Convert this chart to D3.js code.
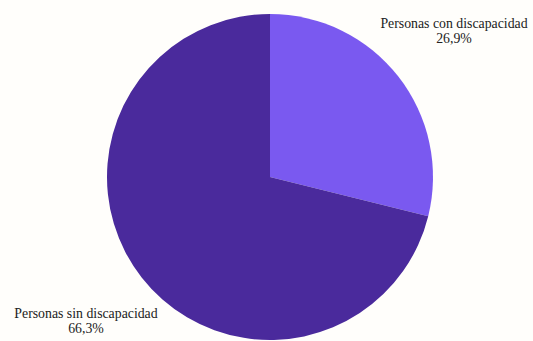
<!DOCTYPE html>
<html>
<head>
<meta charset="utf-8">
<script src="https://cdn.jsdelivr.net/npm/d3@7"></script>
<style>
  html, body { margin: 0; padding: 0; background: #fffefb; }
  svg { display: block; }
</style>
</head>
<body>
<svg id="chart" width="533" height="341"></svg>
<script>
// Population shares by disability status
const categories = ["Personas con discapacidad", "Personas sin discapacidad"];
const values = [26.9, 66.3];
const valueLabels = ["26,9%", "66,3%"];
const colors = ["#7a59f0", "#4a2a9c"];

const width = 533, height = 341;
const cx = 270, cy = 177, radius = 163;

const svg = d3.select("#chart");

const data = categories.map((c, i) => ({ name: c, value: values[i], label: valueLabels[i], color: colors[i] }));

const pie = d3.pie().value(d => d.value).sort(null);
const arc = d3.arc().innerRadius(0).outerRadius(radius);

const g = svg.append("g").attr("transform", `translate(${cx},${cy})`);

g.selectAll("path")
  .data(pie(data))
  .join("path")
  .attr("d", arc)
  .attr("fill", d => d.data.color);

// Labels placed outside the pie
const labelPos = [
  { x: 454, y: 28 },
  { x: 86, y: 318 }
];

const labels = svg.selectAll("g.lbl")
  .data(data)
  .join("g")
  .attr("class", "lbl")
  .attr("transform", (d, i) => `translate(${labelPos[i].x},${labelPos[i].y})`);

labels.append("text")
  .attr("text-anchor", "middle")
  .style("font-family", "'Liberation Serif'")
  .style("font-size", "13.8px")
  .attr("fill", "#222")
  .text(d => d.name);

labels.append("text")
  .attr("text-anchor", "middle")
  .style("font-family", "'Liberation Serif'")
  .style("font-size", "13.8px")
  .attr("fill", "#222")
  .attr("y", 15)
  .text(d => d.label);
</script>
</body>
</html>
